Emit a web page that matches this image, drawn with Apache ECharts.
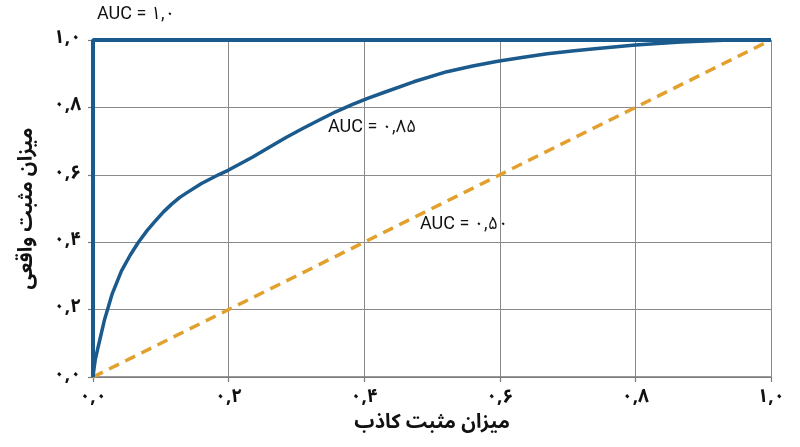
<!DOCTYPE html>
<html>
<head>
<meta charset="utf-8">
<script src="https://cdn.jsdelivr.net/npm/echarts@6/dist/echarts.min.js"></script>
<style>html,body{margin:0;padding:0;background:#fff}#c{width:800px;height:447px}</style>
</head>
<body>
<div id="c"></div>
<script>
const tickLabels = ['۰,۰','۰,۲','۰,۴','۰,۶','۰,۸','۱,۰'];
const xTitle = 'میزان مثبت کاذب';
const yTitle = 'میزان مثبت واقعی';
const perfectFpr = [0, 0, 1];
const perfectTpr = [0, 1, 1];
const rocFpr = [0, 0.0015, 0.0032, 0.0065, 0.0106, 0.017, 0.028, 0.042, 0.055, 0.067, 0.08, 0.092, 0.104, 0.116, 0.128, 0.141, 0.16, 0.185, 0.2, 0.235, 0.26, 0.284, 0.31, 0.333, 0.358, 0.382, 0.405, 0.43, 0.473, 0.522, 0.56, 0.597, 0.635, 0.67, 0.71, 0.744, 0.8, 0.867, 0.93, 1];
const rocTpr = [0, 0.025, 0.05, 0.08, 0.115, 0.17, 0.245, 0.315, 0.362, 0.4, 0.435, 0.463, 0.49, 0.513, 0.533, 0.55, 0.574, 0.6, 0.614, 0.652, 0.682, 0.71, 0.738, 0.762, 0.787, 0.808, 0.827, 0.845, 0.876, 0.906, 0.923, 0.937, 0.949, 0.959, 0.968, 0.975, 0.985, 0.994, 0.999, 1];
const randomFpr = [0, 1];
const randomTpr = [0, 1];
const annotations = ['AUC = ۱,۰', 'AUC = ۰,۸۵', 'AUC = ۰,۵۰'];

const zip = (a, b) => a.map((v, i) => [v, b[i]]);
const blue = '#1b5a8c';
const orange = '#e2a12f';
const fontFam = 'Roboto, "Noto Sans Arabic", "Vazirmatn", "DejaVu Sans", sans-serif';
const arFont = '"Noto Sans Arabic", "Vazirmatn", "DejaVu Sans", sans-serif';

const axisCommon = {
  type: 'value', min: 0, max: 1, interval: 0.2,
  axisLine: { show: true, lineStyle: { color: '#7a7a7a', width: 1.5 } },
  axisTick: { show: true, length: 5, lineStyle: { color: '#7a7a7a', width: 1.2 } },
  splitLine: { show: true, lineStyle: { color: '#8a8a8a', width: 1 } },
  axisLabel: { color: '#111', fontSize: 19, fontWeight: 'bold', fontFamily: arFont,
    formatter: v => tickLabels[Math.round(v / 0.2)] },
  nameLocation: 'middle',
  nameTextStyle: { color: '#111', fontSize: 20, fontWeight: 'bold', fontFamily: arFont }
};

const chart = echarts.init(document.getElementById('c'));
chart.setOption({
  animation: false,
  backgroundColor: '#fff',
  grid: { left: 93, right: 29, top: 40, bottom: 70 },
  xAxis: Object.assign({}, axisCommon, { name: xTitle, nameGap: 38,
    axisLabel: Object.assign({}, axisCommon.axisLabel, { margin: 13 }) }),
  yAxis: Object.assign({}, axisCommon, { name: yTitle, nameGap: 54,
    axisLabel: Object.assign({}, axisCommon.axisLabel, { margin: 12 }) }),
  series: [
    { type: 'line', data: zip(randomFpr, randomTpr), symbol: 'none', z: 2,
      lineStyle: { color: orange, width: 3.5, type: [11, 7] } },
    { type: 'line', data: zip(rocFpr, rocTpr), symbol: 'none', smooth: false, z: 3,
      lineStyle: { color: blue, width: 3.5, join: 'round' } },
    { type: 'line', data: zip(perfectFpr, perfectTpr), symbol: 'none', z: 4,
      lineStyle: { color: blue, width: 4 } }
  ],
  graphic: [
    { type: 'text', left: 97, top: 5, style: { text: annotations[0], fontSize: 18, fill: '#111', fontFamily: fontFam } },
    { type: 'text', left: 328, top: 118, style: { text: annotations[1], fontSize: 18, fill: '#111', fontFamily: fontFam } },
    { type: 'text', left: 420, top: 215, style: { text: annotations[2], fontSize: 18, fill: '#111', fontFamily: fontFam } }
  ]
});
</script>
</body>
</html>
